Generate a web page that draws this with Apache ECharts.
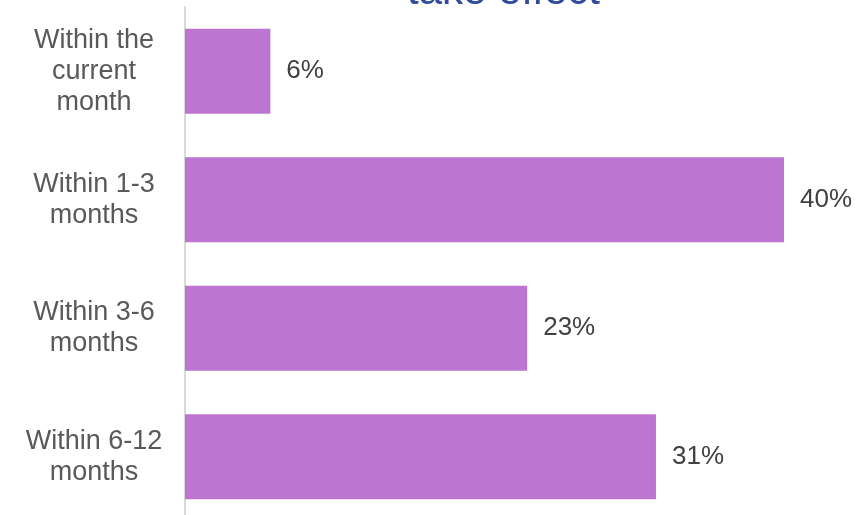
<!DOCTYPE html>
<html>
<head>
<meta charset="utf-8">
<script src="https://cdn.jsdelivr.net/npm/echarts@6/dist/echarts.min.js"></script>
<style>
  html, body { margin: 0; padding: 0; background: #fff; }
  #main { width: 859px; height: 515px; }
</style>
</head>
<body>
<div id="main"></div>
<script>
// categories top to bottom
var categories = ['Within the\ncurrent\nmonth', 'Within 1-3\nmonths', 'Within 3-6\nmonths', 'Within 6-12\nmonths'];
// share of respondents (%)
var shares = [5.7, 40, 22.85, 31.45];

var myChart = echarts.init(document.getElementById('main'));

var option = {
  animation: false,
  title: {
    text: 'take effect',
    left: 402,
    top: -34,
    textStyle: {
      color: '#2F4A9F',
      fontSize: 42,
      fontWeight: 'normal',
      fontFamily: 'Liberation Sans'
    }
  },
  // the plot runs a little past the bottom edge of the picture
  grid: {
    left: 185,
    right: 75,
    top: 7,
    height: 514,
    containLabel: false,
    outerBoundsMode: 'none'
  },
  xAxis: {
    type: 'value',
    min: 0,
    max: 40,
    show: false
  },
  yAxis: {
    type: 'category',
    inverse: true,
    data: categories,
    axisLine: { show: true, lineStyle: { color: '#D9D9D9', width: 2 } },
    axisTick: { show: false },
    axisLabel: {
      align: 'center',
      margin: 91,
      color: '#595959',
      fontSize: 27,
      lineHeight: 31,
      fontFamily: 'Liberation Sans'
    }
  },
  series: [{
    type: 'bar',
    data: shares,
    barCategoryGap: '34%',
    itemStyle: { color: '#BC75D0' },
    label: {
      show: true,
      position: 'right',
      distance: 16,
      color: '#404040',
      fontSize: 26,
      fontFamily: 'Liberation Sans',
      formatter: function (p) { return Math.round(p.value) + '%'; }
    }
  }]
};

myChart.setOption(option);
</script>
</body>
</html>
